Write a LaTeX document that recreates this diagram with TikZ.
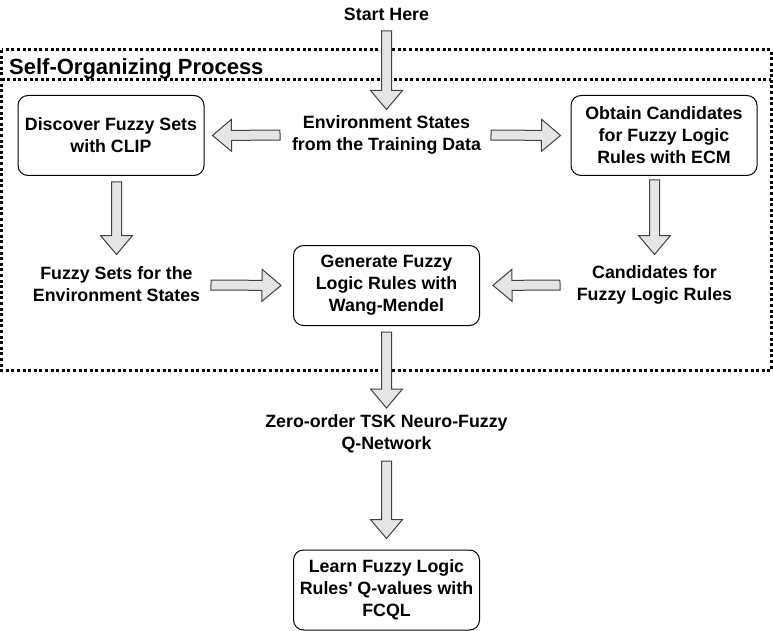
\documentclass[tikz,border=0pt]{standalone}
\usepackage{fontspec}
\setmainfont{Liberation Sans}
\usetikzlibrary{calc}

% fat outlined arrow from #1 to #2, gaps #3 and #4
\newcommand{\blockarrow}[4]{%
  \coordinate (ba-s) at ($(#1)!#3!(#2)$);
  \coordinate (ba-t) at ($(#2)!#4!(#1)$);
  \coordinate (ba-h) at ($(ba-t)!19pt!(ba-s)$);
  \draw[arrowbody] ($(ba-s)!5pt!90:(ba-t)$) -- ($(ba-h)!5pt!90:(ba-t)$)
    -- ($(ba-h)!16pt!90:(ba-t)$) -- (ba-t) -- ($(ba-h)!16pt!-90:(ba-t)$)
    -- ($(ba-h)!5pt!-90:(ba-t)$) -- ($(ba-s)!5pt!-90:(ba-t)$) -- cycle;}

\begin{document}
\begin{tikzpicture}[x=1pt,y=-1pt,
  every node/.style={font=\fontsize{17.8}{22}\selectfont\bfseries},
  box/.style={draw, rounded corners=10pt, minimum width=186pt, minimum height=80pt, align=center, line width=1pt},
  txt/.style={align=center, inner sep=0pt},
  arrowbody/.style={draw=black!75, fill=gray!20, line width=1pt},
  frame/.style={line width=3pt, dash pattern=on 3pt off 2.6pt}]

\useasboundingbox (0,0) rectangle (773,631);

% Self-organizing frame
\draw[frame] (1.5,50) rectangle (771,370.5);
\draw[frame] (1.5,80) -- (771,80);
\node[anchor=base west, inner sep=0pt, font=\fontsize{22}{26}\selectfont\bfseries] (title) at (9,75) {Self-Organizing Process};

% Steps
\node[txt] (start) at (386.5,14) {Start Here};
\node[txt] (env) at (386.5,134.5) {Environment States\\from the Training Data};
\node[box] (discover) at (111,135.5) {Discover Fuzzy Sets\\with CLIP};
\node[box] (obtain) at (664,135.5) {Obtain Candidates\\for Fuzzy Logic\\Rules with ECM};
\node[txt] (fuzzy) at (116.5,284.5) {Fuzzy Sets for the\\Environment States};
\node[txt] (cand) at (654.5,284.5) {Candidates for\\Fuzzy Logic Rules};
\node[box] (generate) at (386.5,285.5) {Generate Fuzzy\\Logic Rules with\\Wang-Mendel};
\node[txt] (zero) at (386.5,434) {Zero-order TSK Neuro-Fuzzy\\Q-Network};
\node[box] (learn) at (386.5,590) {Learn Fuzzy Logic\\Rules\textquotesingle{} Q-values with\\FCQL};

% Arrows
\blockarrow{start}{env}{17pt}{25pt}
\blockarrow{env}{discover.east}{106.5pt}{8pt}
\blockarrow{env}{obtain.west}{104.5pt}{10pt}
\blockarrow{fuzzy |- discover.south}{fuzzy}{6pt}{30pt}
\blockarrow{cand |- obtain.south}{cand}{4pt}{30pt}
\blockarrow{fuzzy}{generate.west}{94.5pt}{12pt}
\blockarrow{cand}{generate.east}{94.5pt}{13pt}
\blockarrow{generate.south}{zero}{6pt}{26pt}
\blockarrow{zero}{learn.north}{27pt}{11pt}

\end{tikzpicture}
\end{document}
